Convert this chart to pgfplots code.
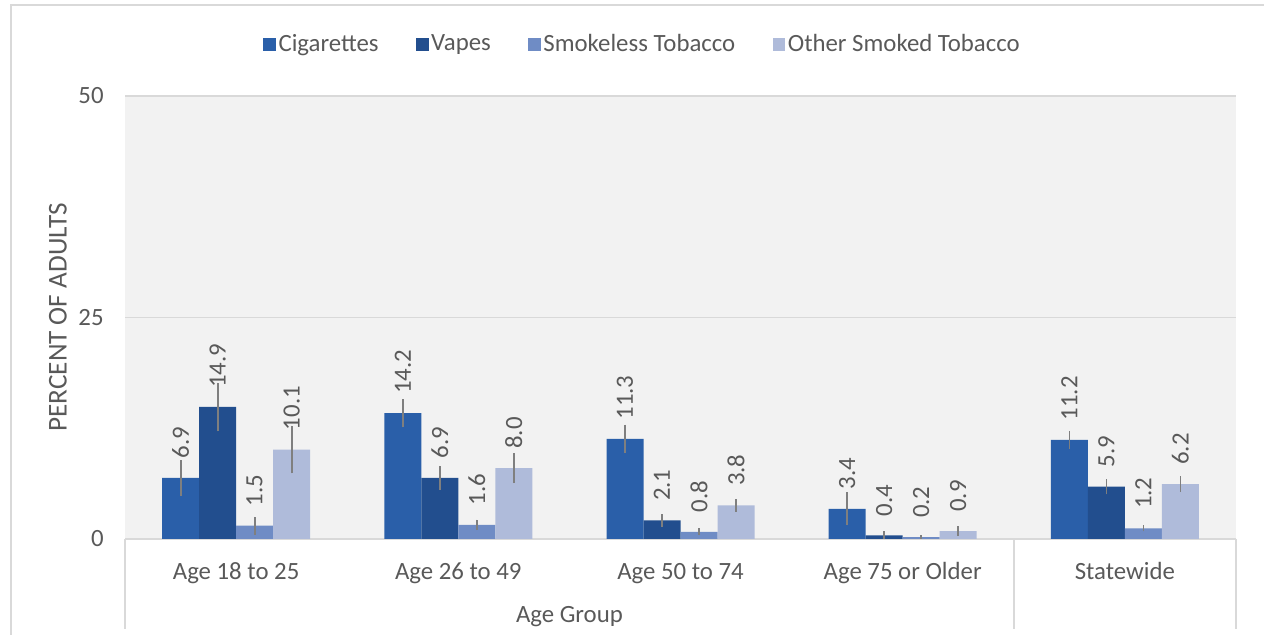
\documentclass[border=0pt]{standalone}
\usepackage{pgfplots}
\pgfplotsset{compat=1.18}
\usepackage{pgfplotstable}
\usepackage{fontspec}
\setmainfont{Carlito}

\definecolor{cig}{HTML}{2A5FA9}
\definecolor{vap}{HTML}{224E8E}
\definecolor{smk}{HTML}{6F8CC5}
\definecolor{oth}{HTML}{AFBBDA}
\definecolor{txt}{HTML}{595959}
\definecolor{grd}{HTML}{D9D9D9}
\definecolor{bg}{HTML}{F2F2F2}
\definecolor{err}{HTML}{7F7F7F}

% value and half-width of the error bar, per group
\pgfplotstableread{
x cig  cige vap  vape smk smke oth  othe
0 6.9  2.0  14.9 2.75 1.5 1.0  10.1 2.7
1 14.2 1.6  6.9  1.35 1.6 0.6  8.0  1.7
2 11.3 1.6  2.1  0.7  0.8 0.4  3.8  0.7
3 3.4  1.85 0.4  0.45 0.2 0.2  0.9  0.55
4 11.2 1.0  5.9  0.85 1.2 0.35 6.2  0.9
}\data

\pgfplotsset{
    eb/.style={error bars/.cd, y dir=both, y explicit, error mark=none,
        error bar style={err, line width=0.9pt}},
}

\begin{document}
\begin{tikzpicture}[font=\fontsize{12.4}{14}\selectfont]
\path[use as bounding box] (0,0) rectangle (632pt,-317.5pt);
\draw[grd, line width=1pt] (5.5pt,-317.5pt) -- (5.5pt,-2.75pt) -- (632pt,-2.75pt);
\begin{axis}[
    at={(62.5pt,-269.5pt)}, anchor=south west,
    width=555.5pt, height=221.5pt, scale only axis,
    clip=false,
    xmin=-0.5, xmax=4.5, ymin=0, ymax=50,
    ybar=0pt, bar width=18.5pt,
    axis background/.style={fill=bg},
    axis line style={draw=none},
    major tick length=0pt,
    ytick={0,25,50},
    ymajorgrids, grid style={grd, line width=0.9pt},
    xtick={0,...,4},
    xticklabels={Age 18 to 25, Age 26 to 49, Age 50 to 74, Age 75 or Older, Statewide},
    xticklabel style={anchor=base, yshift=-20pt, text=txt},
    yticklabel style={anchor=east, inner sep=0pt, xshift=-10.5pt, text=txt},
    /pgf/number format/assume math mode=true,
    ylabel={PERCENT OF ADULTS},
    every axis y label/.style={at={(rel axis cs:0,0.5)}, xshift=-33.5pt, rotate=90, anchor=center,
        text=txt, font=\fontsize{13.6}{15}\selectfont},
    nodes near coords,
    nodes near coords style={rotate=90, anchor=west, inner xsep=9.5pt, inner ysep=0pt, text=txt,
        /pgf/number format/fixed, /pgf/number format/fixed zerofill,
        /pgf/number format/precision=1, /pgf/number format/assume math mode=true},
    legend style={at={(0.466,1.117)}, anchor=center, draw=none, fill=none,
        legend columns=4, text=txt, nodes={inner sep=1.2pt},
        /tikz/every even column/.append style={column sep=17.5pt}},
    legend image code/.code={\draw[#1, draw=none] (0pt,-3.2pt) rectangle (6.4pt,3.2pt);},
]
\addplot[fill=cig, draw=none, eb] table[x=x, y=cig, y error=cige]{\data};
\addplot[fill=vap, draw=none, eb] table[x=x, y=vap, y error=vape]{\data};
\addplot[fill=smk, draw=none, eb] table[x=x, y=smk, y error=smke]{\data};
\addplot[fill=oth, draw=none, eb] table[x=x, y=oth, y error=othe]{\data};
\legend{Cigarettes, Vapes, Smokeless Tobacco, Other Smoked Tobacco}

\draw[grd, line width=0.9pt] (axis cs:-0.5,0) -- ([yshift=-45pt]axis cs:-0.5,0);
\draw[grd, line width=0.9pt] (axis cs:3.5,0) -- ([yshift=-45pt]axis cs:3.5,0);
\draw[grd, line width=0.9pt] (axis cs:4.5,0) -- ([yshift=-45pt]axis cs:4.5,0);
\node[anchor=base, text=txt] at (axis cs:1.5,0) [yshift=-41.5pt] {Age Group};
\end{axis}
\end{tikzpicture}
\end{document}
